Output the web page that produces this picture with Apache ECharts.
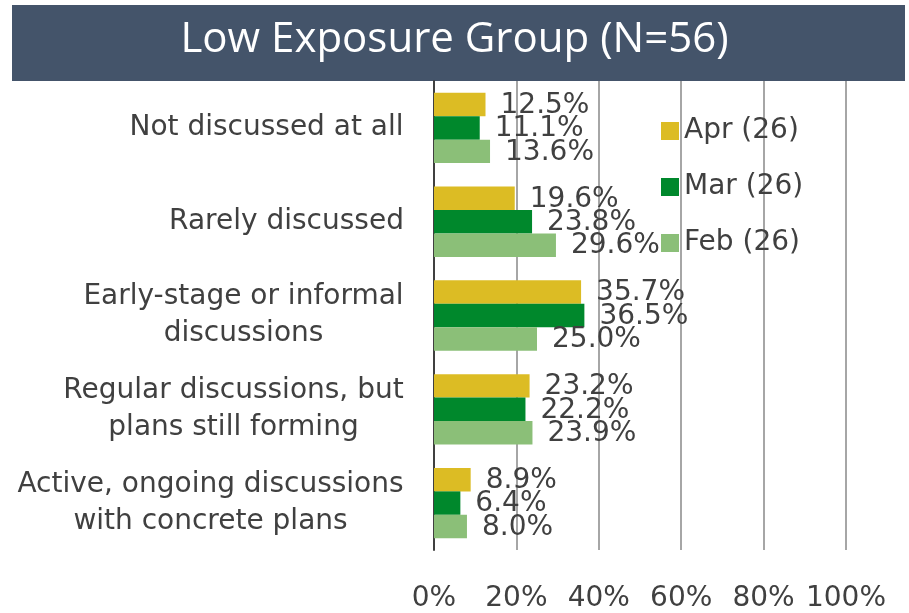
<!DOCTYPE html>
<html>
<head>
<meta charset="utf-8">
<script src="https://cdn.jsdelivr.net/npm/echarts@6/dist/echarts.min.js"></script>
<style>
  html, body { margin: 0; padding: 0; background: #fff; }
  #main { width: 909px; height: 613px; }
</style>
</head>
<body>
<div id="main"></div>
<script>
// data
var categories = [
  'Not discussed at all',
  'Rarely discussed',
  'Early-stage or informal\ndiscussions',
  'Regular discussions, but\nplans still forming',
  'Active, ongoing discussions\nwith concrete plans'
];
var seriesNames = ['Apr (26)', 'Mar (26)', 'Feb (26)'];
var aprValues = [12.5, 19.6, 35.7, 23.2, 8.9];
var marValues = [11.1, 23.8, 36.5, 22.2, 6.4];
var febValues = [13.6, 29.6, 25.0, 23.9, 8.0];
var tickLabels = ['0%', '20%', '40%', '60%', '80%', '100%'];

var textColor = '#404040';
var fontFam = '"DejaVu Sans", Verdana, sans-serif';

// widths of category labels, so the lines of a 2-line label can be centred
var cv = document.createElement('canvas').getContext('2d');
cv.font = '28px "DejaVu Sans"';
var rich = {};
categories.forEach(function (c, i) {
  var w = 0;
  c.split('\n').forEach(function (l) { w = Math.max(w, cv.measureText(l).width); });
  rich['c' + i] = {
    width: Math.ceil(w), align: 'center',
    fontSize: 28, fontFamily: fontFam, color: textColor, lineHeight: 37
  };
});

var chart = echarts.init(document.getElementById('main'));

function barSeries(name, values, color) {
  return {
    name: name,
    type: 'bar',
    data: values,
    barGap: '0%',
    barCategoryGap: '25%',
    itemStyle: { color: color },
    label: {
      show: true,
      position: 'right',
      distance: 15,
      offset: [0, 1],
      fontSize: 28,
      fontFamily: fontFam,
      color: textColor,
      formatter: function (p) { return p.value.toFixed(1) + '%'; }
    }
  };
}

var option = {
  animation: false,
  graphic: [{
    type: 'rect',
    shape: { x: 12, y: 5, width: 893, height: 76 },
    style: { fill: '#44546a' },
    z: -1
  }],
  title: {
    text: 'Low Exposure Group (N=56)',
    left: 'center',
    top: 14,
    textStyle: { color: '#fff', fontSize: 42, fontWeight: 'normal', fontFamily: '"Open Sans", sans-serif' }
  },
  legend: {
    orient: 'vertical',
    left: 656,
    top: 109,
    icon: 'rect',
    itemWidth: 18,
    itemHeight: 18,
    itemGap: 22,
    textStyle: { fontSize: 28, fontFamily: fontFam, color: textColor, lineHeight: 34 },
    data: seriesNames
  },
  grid: { left: 434, right: 63, top: 81, bottom: 63, containLabel: false },
  xAxis: {
    type: 'value',
    min: 0,
    max: 100,
    interval: 20,
    axisLine: { show: false },
    axisTick: { show: false },
    splitLine: { show: true, lineStyle: { color: '#a6a6a6', width: 2 } },
    axisLabel: {
      margin: 35,
      fontSize: 28,
      fontFamily: fontFam,
      color: textColor,
      formatter: function (v) { return tickLabels[v / 20]; }
    }
  },
  yAxis: {
    type: 'category',
    inverse: true,
    data: categories,
    axisLine: { show: true, lineStyle: { color: '#404040', width: 2 } },
    axisTick: { show: false },
    axisLabel: {
      margin: 30,
      align: 'right',
      formatter: function (v, i) {
        return v.split('\n').map(function (l) { return '{c' + i + '|' + l + '}'; }).join('\n');
      },
      rich: rich
    }
  },
  series: [
    barSeries(seriesNames[0], aprValues, '#dcbc24'),
    barSeries(seriesNames[1], marValues, '#00882c'),
    barSeries(seriesNames[2], febValues, '#8bbf78')
  ]
};

chart.setOption(option);
</script>
</body>
</html>
